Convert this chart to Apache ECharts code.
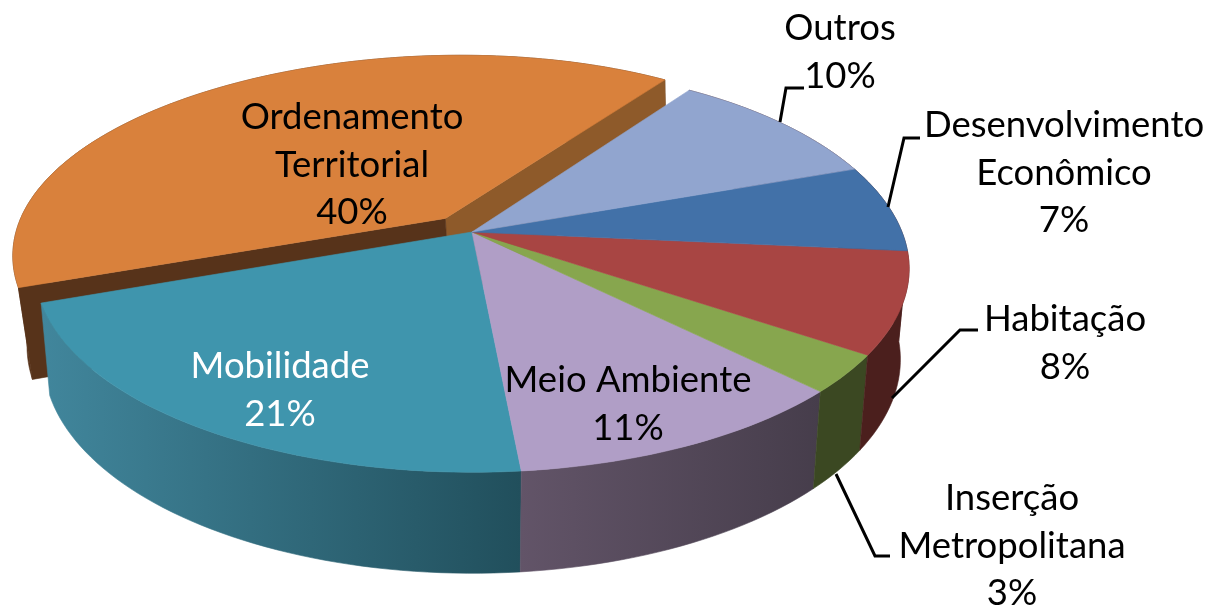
<!DOCTYPE html>
<html><head><meta charset="utf-8">
<style>html,body{margin:0;padding:0;background:#fff}#c{width:1207px;height:608px}</style>
<script src="https://cdn.jsdelivr.net/npm/echarts@6/dist/echarts.min.js"></script>
</head><body><div id="c"></div>
<script>
// ---- data (clockwise) ----
const categories = ['Ordenamento\nTerritorial','Mobilidade','Meio Ambiente','Inserção\nMetropolitana','Habitação','Desenvolvimento\nEconômico','Outros'];
const values = [40,21,11,3,8,7,10];
const topColors = ['#d9813c','#3f95ad','#b09ec6','#87a64e','#a84543','#4271a8','#91a5cf'];
const wallColors = [['#57331a','#57331a'],['#41869c','#214f5c'],['#625468','#463d4b'],['#3b4822','#3b4822'],['#4b1f1d','#4b1f1d'],['#4b1f1d','#4b1f1d'],['#4b1f1d','#4b1f1d']];
const labelColors = ['#000','#fff','#000','#000','#000','#000','#000'];

// ---- layout ----
const view = {x0:472,y0:232,a:430,b:197,k:0.18,sx:0.98,sy:1.05,yBottom:321,backSkew:10};
const startDeg = 145.8;   // Outros/Ordenamento boundary, degrees from the bottom of the pie
const explode = {u:-0.063,v:-0.07,index:0,bottomDx:5};
const labelPos = [[352,165],[280,390],[628,404],[1012,546],[1065,343],[1064,173],[840,52]];
const leaders = [null,null,null,[[836,474],[875,556],[890,556]],[[892,398],[960,330],[978,330]],[[888,207],[904,138],[920,138]],[[780,122],[786,88],[804,88]]];
const fontCss = '36.5px Lato, Carlito, sans-serif';
const lineGap = 47.5;

function project(u,v,bottom){
  const den = 1 - view.k*v;
  const skew = view.backSkew*Math.pow(Math.max(0,-v),2);
  if(bottom) return [view.x0 + view.sx*view.a*u/den + skew, view.yBottom + view.sy*view.b*v/den];
  return [view.x0 + view.a*u/den + skew, view.y0 + view.b*v/den];
}
const total = values.reduce((s,v)=>s+v,0);
const spans = []; {
  let acc = startDeg;
  values.forEach(val=>{const d=val/total*360; spans.push([acc,acc+d]); acc+=d;});
}
function arc(a1,a2,off,bottom){
  const pts=[], n=Math.max(4,Math.ceil(Math.abs(a2-a1)/1.5));
  for(let i=0;i<=n;i++){
    const t=(a1+(a2-a1)*i/n)*Math.PI/180;
    const p=project(Math.sin(t)+off.u,Math.cos(t)+off.v,bottom);
    if(bottom) p[0]+=off.bottomDx;
    pts.push(p);
  }
  return pts;
}
function poly(points,fill,z2){
  return {type:'polygon',z2:z2,silent:true,shape:{points:points},style:{fill:fill,stroke:fill,lineWidth:0.6}};
}
function renderItem(params,api){
  const i=params.dataIndex, [a1,a2]=spans[i];
  const isEx = i===explode.index;
  const off = isEx ? explode : {u:0,v:0,bottomDx:0};
  const topArc=arc(a1,a2,off,false), botArc=arc(a1,a2,off,true);
  const xs=topArc.concat(botArc).map(p=>p[0]);
  const wc=wallColors[i];
  const wallFill=new echarts.graphic.LinearGradient(Math.min(...xs),0,Math.max(...xs),0,[{offset:0,color:wc[0]},{offset:1,color:wc[1]}],true);
  const base=isEx?0:3;
  const kids=[];
  const tipT=project(off.u,off.v,false), tipB=project(off.u,off.v,true);
  tipB[0]+=off.bottomDx;
  if(isEx){
    const e1=topArc[0], e1b=botArc[0], e2=topArc[topArc.length-1], e2b=botArc[botArc.length-1];
    kids.push(poly([tipT,e1,e1b,tipB],'#8e5a2a',base+1));       // wall facing right
    kids.push(poly([tipT,e2,e2b,tipB],'#57331a',base+1));       // wall facing the viewer
  }
  kids.push(poly(topArc.concat(botArc.slice().reverse()),wallFill,base));
  kids.push(poly([tipT].concat(topArc),topColors[i],base+2));
  kids.push({type:'text',z2:10,silent:true,style:{
    text:categories[i]+'\n'+api.value(0)+'%',x:labelPos[i][0],y:labelPos[i][1],
    align:'center',verticalAlign:'middle',font:fontCss,lineHeight:lineGap,fill:labelColors[i]}});
  if(leaders[i]) kids.push({type:'polyline',z2:9,silent:true,shape:{points:leaders[i]},style:{stroke:'#000',lineWidth:3,fill:null}});
  return {type:'group',children:kids};
}
const chart=echarts.init(document.getElementById('c'),null,{renderer:'canvas'});
chart.setOption({
  animation:false,
  backgroundColor:'#fff',
  series:[{type:'custom',coordinateSystem:'none',renderItem:renderItem,data:values.map(v=>[v]),silent:true}]
});
</script></body></html>
